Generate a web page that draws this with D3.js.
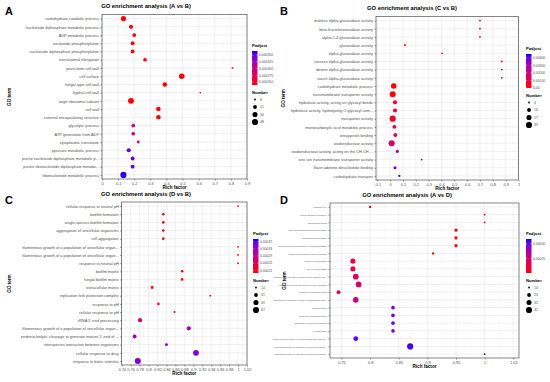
<!DOCTYPE html>
<html>
<head>
<meta charset="utf-8">
<script src="https://cdn.jsdelivr.net/npm/d3@7"></script>
<style>
  body { margin: 0; background: #fff; }
  svg { font-family: "Liberation Sans", Arial, sans-serif; }
</style>
</head>
<body>
<script>
// ---- panel A : A vs B ----
const termsA = ["carbohydrate catabolic process", "nucleoside diphosphate metabolic process", "ADP metabolic process",
  "nucleotide phosphorylation", "nucleoside diphosphate phosphorylation", "translational elongation", "yeast-form cell wall",
  "cell surface", "fungal-type cell wall", "hyphal cell wall", "large ribosomal subunit", "cell wall",
  "external encapsulating structure", "glycolytic process", "ATP generation from ADP", "cytoplasmic translation",
  "pyruvate metabolic process", "purine nucleoside diphosphate metabolic p...", "purine ribonucleotide diphosphate metabo...",
  "ribonucleotide metabolic process"]
const richA = [0.133, 0.18, 0.2, 0.19, 0.19, 0.267, 0.81, 0.495, 0.39, 0.61, 0.18, 0.35, 0.35, 0.194, 0.194, 0.225, 0.166, 0.19, 0.19, 0.133]
const countA = [35, 24, 21, 22, 22, 20, 8, 40, 28, 7, 45, 28, 28, 20, 20, 14, 24, 22, 22, 48]
const padjA = [0.000242, 0.000242, 0.000242, 0.000242, 0.000242, 0.000242, 0.000242, 0.000242, 0.000242, 0.000242, 0.000242,
  0.000242, 0.000242, 0.000292, 0.000292, 0.000305, 0.000352, 0.000355, 0.000355, 0.000362]
const xTicksA = [0, 0.1, 0.2, 0.3, 0.4, 0.5, 0.6, 0.7, 0.8, 0.9]
const padjTicksA = [0.00025, 0.000275, 0.0003, 0.000325, 0.00035]
const countTicksA = [8, 21, 34, 48]

// ---- panel B : C vs B ----
const termsB = ["maltose alpha-glucosidase activity", "beta-fructofuranosidase activity", "alpha-1,4-glucosidase activity",
  "glucosidase activity", "alpha-glucosidase activity", "sucrose alpha-glucosidase activity", "dextrin alpha-glucosidase activity",
  "starch alpha-glucosidase activity", "carbohydrate metabolic process", "transmembrane transporter activity",
  "hydrolase activity, acting on glycosyl bonds", "hydrolase activity, hydrolyzing O-glycosyl com...", "transporter activity",
  "monocarboxylic acid metabolic process", "tetrapyrrole binding", "oxidoreductase activity",
  "oxidoreductase activity, acting on the CH-CH ...", "zinc ion transmembrane transporter activity",
  "flavin adenine dinucleotide binding", "carbohydrate transport"]
const richB = [0.70, 0.70, 0.70, 0.115, 0.405, 0.87, 0.87, 0.87, 0.028, 0.02, 0.038, 0.038, 0.02, 0.033, 0.04, 0.012, 0.056, 0.246, 0.038, 0.072]
const countB = [4, 4, 4, 5, 4, 4, 4, 4, 32, 37, 18, 18, 39, 16, 16, 38, 10, 4, 10, 6]
const padjB = [0.00001, 0.00001, 0.00001, 0.00005, 0.00002, 0.00001, 0.00001, 0.00001, 0.00008, 0.0001, 0.0007, 0.0007,
  0.0006, 0.001, 0.0012, 0.0017, 0.0031, 0.0036, 0.0039, 0.0043]
const xTicksB = [-0.1, 0, 0.1, 0.2, 0.3, 0.4, 0.5, 0.6, 0.7, 0.8, 0.9, 1]
const padjTicksB = [0, 0.001, 0.002, 0.003, 0.004]
const countTicksB = [4, 16, 27, 39]

// ---- panel C : D vs B ----
const termsC = ["cellular response to neutral pH", "biofilm formation", "single-species biofilm formation",
  "aggregation of unicellular organisms", "cell aggregation", "filamentous growth of a population of unicellular organ...",
  "filamentous growth of a population of unicellular organ... ", "response to neutral pH", "biofilm matrix",
  "fungal biofilm matrix", "extracellular matrix", "replication fork protection complex", "response to pH",
  "cellular response to pH", "rRNA 5'-end processing", "filamentous growth of a population of unicellular organ...  ",
  "endonucleolytic cleavage to generate mature 5'-end of ...", "interspecies interaction between organisms",
  "cellular response to drug", "response to biotic stimulus"]
const richC = [1.0, 0.833, 0.833, 0.833, 0.833, 1.0, 1.0, 1.0, 0.875, 0.875, 0.808, 0.938, 0.822, 0.858, 0.781, 0.89, 0.769, 0.84, 0.906, 0.776]
const countC = [14, 20, 20, 20, 20, 14, 14, 14, 20, 20, 22, 14, 20, 16, 35, 35, 32, 22, 60, 65]
const padjC = [0.000202, 0.000202, 0.000202, 0.000202, 0.000202, 0.000202, 0.000202, 0.000202, 0.000202, 0.000202, 0.000202,
  0.000202, 0.000205, 0.000215, 0.00027, 0.00033, 0.000345, 0.000345, 0.00035, 0.00035]
const xTicksC = [0.74, 0.76, 0.78, 0.8, 0.82, 0.84, 0.86, 0.88, 0.9, 0.92, 0.94, 0.96, 0.98, 1, 1.02]
const padjTicksC = [0.00021, 0.00025, 0.00029, 0.00033, 0.00037]
const countTicksC = [14, 31, 49, 67]

// ---- panel D : A vs D ----
const termsD = ["response to pH", "cellular response to neutral pH", "pseudohyphal growth",
  "single-species submerged biofilm formation", "submerged biofilm formation",
  "single-species biofilm formation on inanimate substrate", "interspecies interaction between organisms",
  "ncRNA 5'-end processing", "RNA 5'-end processing", "endonucleolytic cleavage of tricistronic rRNA transcript (SS...",
  "endonucleolytic cleavage involved in rRNA processing", "regulation of filamentous growth",
  "endonucleolytic cleavage in 5'-ETS of tricistronic rRNA tran...", "biofilm formation", "single-species biofilm formation",
  "aggregation of unicellular organisms", "cell aggregation", "endonucleolytic cleavage in ITS1 to separate SSU-rRNA fro...",
  "filamentous growth of a population of unicellular organism...", "filamentous growth of a population of unicellular organism... "]
const richD = [0.8, 1.0, 1.0, 0.95, 0.95, 0.95, 0.91, 0.77, 0.77, 0.775, 0.78, 0.745, 0.775, 0.84, 0.84, 0.84, 0.84, 0.775, 0.87, 1.0]
const countD = [16, 14, 14, 20, 20, 20, 16, 32, 32, 38, 38, 24, 36, 22, 22, 22, 22, 30, 42, 14]
const padjD = [0.00001, 0.00001, 0.00001, 0.00001, 0.00001, 0.00001, 0.00002, 0.00012, 0.00012, 0.00018, 0.0002, 0.00016,
  0.00028, 0.0005, 0.0005, 0.0005, 0.0005, 0.00052, 0.00055, 0.00056]
const xTicksD = [0.75, 0.8, 0.85, 0.9, 0.95, 1, 1.05]
const padjTicksD = [0.00025, 0.0005]
const countTicksD = [14, 23, 32, 42]

const W = 550, H = 382
const svg = d3.select("body").append("svg").attr("width", W).attr("height", H)

const fmtTick = d => String(+d.toFixed(2))

function drawPanel(p) {
  const g = svg.append("g")
  const x = d3.scaleLinear().domain(p.xDomain).range([p.left, p.right])
  const y = d3.scalePoint().domain(p.terms).range([p.top, p.bottom]).padding(0.5)
  const color = d3.scaleLinear().domain(p.padjDomain).range(["red", "blue"]).interpolate(d3.interpolateLab).clamp(true)
  const area = d3.scaleLinear().domain(d3.extent(p.countTicks)).range([0.8, 9.5])
  const rad = n => Math.sqrt(Math.max(0.3, area(n)))
  const fs = p.fs || 3.9

  // panel letter + title
  g.append("text").attr("x", p.letterX).attr("y", p.letterY).attr("font-size", 11).attr("font-weight", "bold").text(p.letter)
  g.append("text").attr("x", p.titleX).attr("y", p.top - 6.5).attr("text-anchor", "middle")
    .attr("font-size", 5.8).attr("font-weight", "bold").text(p.title)

  // grid
  const minor = d3.pairs(p.xTicks).map(([a, b]) => (a + b) / 2)
  g.append("g").selectAll("line").data(minor).join("line")
    .attr("x1", d => x(d)).attr("x2", d => x(d)).attr("y1", p.top).attr("y2", p.bottom)
    .attr("stroke", "#f2f2f2").attr("stroke-width", 0.4)
  g.append("g").selectAll("line").data(p.xTicks).join("line")
    .attr("x1", d => x(d)).attr("x2", d => x(d)).attr("y1", p.top).attr("y2", p.bottom)
    .attr("stroke", "#e6e6e6").attr("stroke-width", 0.6)
  g.append("g").selectAll("line").data(p.terms).join("line")
    .attr("x1", p.left).attr("x2", p.right).attr("y1", d => y(d)).attr("y2", d => y(d))
    .attr("stroke", "#e6e6e6").attr("stroke-width", 0.6)

  // axes
  const xAxis = g.append("g").attr("transform", "translate(0," + p.bottom + ")")
    .call(d3.axisBottom(x).tickValues(p.xTicks).tickFormat(fmtTick).tickSize(1.5).tickPadding(1.5))
  const yAxis = g.append("g").attr("transform", "translate(" + p.left + ",0)")
    .call(d3.axisLeft(y).tickSize(1.5).tickPadding(1.5))
  for (const ax of [xAxis, yAxis]) {
    ax.select(".domain").remove()
    ax.selectAll("line").attr("stroke", "#333").attr("stroke-width", 0.5)
    ax.selectAll("text").attr("font-size", 3.9).attr("fill", "#4d4d4d").attr("font-family", "Liberation Sans, Arial")
  }
  yAxis.selectAll("text").attr("font-size", fs).text(d => d.trim())

  // frame
  g.append("rect").attr("x", p.left).attr("y", p.top).attr("width", p.right - p.left).attr("height", p.bottom - p.top)
    .attr("fill", "none").attr("stroke", "#333").attr("stroke-width", 0.6)

  // points
  const rows = p.terms.map((t, i) => ({ term: t, rich: p.rich[i], count: p.count[i], padj: p.padj[i] }))
  g.append("g").selectAll("circle").data(rows).join("circle")
    .attr("cx", d => x(d.rich)).attr("cy", d => y(d.term)).attr("r", d => rad(d.count))
    .attr("fill", d => color(d.padj))

  // axis titles
  g.append("text").attr("x", (p.left + p.right) / 2).attr("y", p.bottom + 9.8).attr("text-anchor", "middle")
    .attr("font-size", 4.6).attr("font-weight", "bold").text("Rich factor")
  g.append("text").attr("transform", "translate(" + p.yTitleX + "," + (p.top + p.bottom) / 2 + ") rotate(-90)")
    .attr("text-anchor", "middle").attr("font-size", 4.6).attr("font-weight", "bold").text("GO term")

  // colour bar legend
  const lx = p.legX, ly = p.legY, bh = 34, bw = 5.5
  g.append("text").attr("x", lx).attr("y", ly).attr("font-size", 4.2).attr("font-weight", "bold").text("Padjust")
  const gid = "grad" + p.letter
  const grad = svg.append("defs").append("linearGradient").attr("id", gid).attr("x1", 0).attr("y1", 1).attr("x2", 0).attr("y2", 0)
  d3.range(0, 1.0001, 0.1).forEach(t => {
    grad.append("stop").attr("offset", t).attr("stop-color", color(p.padjDomain[0] + t * (p.padjDomain[1] - p.padjDomain[0])))
  })
  const cb = d3.scaleLinear().domain(p.padjDomain).range([ly + 4 + bh, ly + 4])
  g.append("rect").attr("x", lx).attr("y", ly + 4).attr("width", bw).attr("height", bh).attr("fill", "url(#" + gid + ")")
  g.append("g").selectAll("line").data(p.padjTicks).join("line")
    .attr("x1", lx).attr("x2", lx + 1.2).attr("y1", d => cb(d)).attr("y2", d => cb(d)).attr("stroke", "#fff").attr("stroke-width", 0.4)
  g.append("g").selectAll("line").data(p.padjTicks).join("line")
    .attr("x1", lx + bw - 1.2).attr("x2", lx + bw).attr("y1", d => cb(d)).attr("y2", d => cb(d)).attr("stroke", "#fff").attr("stroke-width", 0.4)
  g.append("g").selectAll("text").data(p.padjTicks).join("text")
    .attr("x", lx + bw + 1.5).attr("y", d => cb(d) + 1.2).attr("font-size", 3.4).attr("fill", "#4d4d4d").text(p.padjFmt)

  // size legend
  const sy = ly + bh + 13
  g.append("text").attr("x", lx).attr("y", sy).attr("font-size", 4.2).attr("font-weight", "bold").text("Number")
  const sl = g.append("g").selectAll("g").data(p.countTicks).join("g")
    .attr("transform", (d, i) => "translate(" + (lx + 3) + "," + (sy + 5.5 + i * 7.5) + ")")
  sl.append("circle").attr("r", d => rad(d)).attr("fill", "#000")
  sl.append("text").attr("x", 5).attr("y", 1.2).attr("font-size", 3.4).attr("fill", "#4d4d4d").text(d => d)
}

drawPanel({ letter: "A", letterX: 5, letterY: 15, title: "GO enrichment analysis (A vs B)", titleX: 146,
  terms: termsA, rich: richA, count: countA, padj: padjA, xTicks: xTicksA, padjTicks: padjTicksA, countTicks: countTicksA,
  xDomain: [0, 0.9], left: 102, right: 247, top: 14.5, bottom: 179, yTitleX: 11,
  padjDomain: [0.00024, 0.000365], padjFmt: d3.format(".6f"), legX: 252, legY: 47 })

drawPanel({ letter: "B", letterX: 280, letterY: 15, title: "GO enrichment analysis (C vs B)", titleX: 412,
  terms: termsB, rich: richB, count: countB, padj: padjB, xTicks: xTicksB, padjTicks: padjTicksB, countTicks: countTicksB,
  xDomain: [-0.11, 1.0], left: 376, right: 518.5, top: 16.5, bottom: 180, yTitleX: 285,
  padjDomain: [0, 0.0045], padjFmt: d => d === 0 ? "0.00" : d3.format(".5f")(d), legX: 526, legY: 50 })

drawPanel({ letter: "C", letterX: 5, letterY: 204, title: "GO enrichment analysis (D vs B)", titleX: 146,
  terms: termsC, rich: richC, count: countC, padj: padjC, xTicks: xTicksC, padjTicks: padjTicksC, countTicks: countTicksC,
  xDomain: [0.74, 1.02], left: 121.7, right: 247, top: 202, bottom: 365, yTitleX: 11,
  padjDomain: [0.000195, 0.000385], padjFmt: d3.format(".5f"), legX: 253, legY: 235 })

drawPanel({ letter: "D", letterX: 280, letterY: 204, title: "GO enrichment analysis (A vs D)", titleX: 407,
  terms: termsD, rich: richD, count: countD, padj: padjD, xTicks: xTicksD, padjTicks: padjTicksD, countTicks: countTicksD,
  xDomain: [0.73, 1.06], left: 330, right: 519, top: 203, bottom: 358, yTitleX: 286, fs: 2.0,
  padjDomain: [0, 0.00058], padjFmt: d3.format(".5f"), legX: 526, legY: 235 })
</script>
</body>
</html>
